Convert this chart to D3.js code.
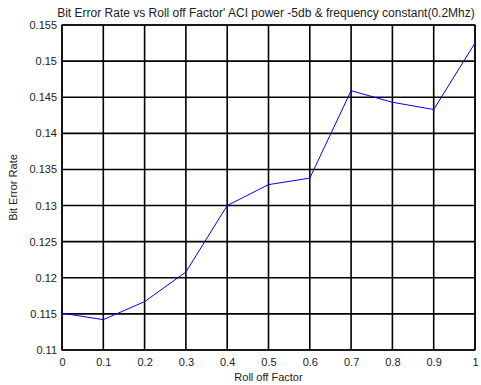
<!DOCTYPE html>
<html>
<head>
<meta charset="utf-8">
<script src="https://cdn.jsdelivr.net/npm/d3@7"></script>
<style>
  body { margin: 0; background: #fff; }
  text { font-family: "Liberation Sans", Arial, sans-serif; fill: #222; }
</style>
</head>
<body>
<div id="chart"></div>
<script>
// values
const rollOff = [0, 0.1, 0.2, 0.3, 0.4, 0.5, 0.6, 0.7, 0.8, 0.9, 1.0];
const ber = [0.1151, 0.1142, 0.1167, 0.1208, 0.1300, 0.1329, 0.1338, 0.1459, 0.1443, 0.1433, 0.1525];
const xTicks = [0, 0.1, 0.2, 0.3, 0.4, 0.5, 0.6, 0.7, 0.8, 0.9, 1];
const yTicks = [0.11, 0.115, 0.12, 0.125, 0.13, 0.135, 0.14, 0.145, 0.15, 0.155];

const width = 481, height = 385;
const margin = { top: 25, right: 6, bottom: 35, left: 62 };

const svg = d3.select("#chart").append("svg")
    .attr("width", width)
    .attr("height", height);

const x = d3.scaleLinear().domain([0, 1]).range([margin.left, width - margin.right]);
const y = d3.scaleLinear().domain([0.11, 0.155]).range([height - margin.bottom, margin.top]);

// grid
svg.append("g")
    .selectAll("line.vgrid")
    .data(xTicks)
    .join("line")
    .attr("x1", d => x(d)).attr("x2", d => x(d))
    .attr("y1", y(0.11)).attr("y2", y(0.155))
    .attr("stroke", "#000").attr("stroke-width", 1.6);

svg.append("g")
    .selectAll("line.hgrid")
    .data(yTicks)
    .join("line")
    .attr("y1", d => y(d)).attr("y2", d => y(d))
    .attr("x1", x(0)).attr("x2", x(1))
    .attr("stroke", "#000").attr("stroke-width", 1.6);

// frame
svg.append("rect")
    .attr("x", x(0)).attr("y", y(0.155))
    .attr("width", x(1) - x(0)).attr("height", y(0.11) - y(0.155))
    .attr("fill", "none").attr("stroke", "#000").attr("stroke-width", 1.2);

// axes labels
const xAxis = d3.axisBottom(x).tickValues(xTicks).tickSize(0).tickPadding(8).tickFormat(d3.format("~g"));
const yAxis = d3.axisLeft(y).tickValues(yTicks).tickSize(0).tickPadding(5).tickFormat(d3.format("~g"));

svg.append("g")
    .attr("transform", "translate(0," + y(0.11) + ")")
    .call(xAxis)
    .call(g => g.select(".domain").remove())
    .selectAll("text").attr("font-size", 11).attr("fill", "#222");

svg.append("g")
    .attr("transform", "translate(" + x(0) + ",0)")
    .call(yAxis)
    .call(g => g.select(".domain").remove())
    .selectAll("text").attr("font-size", 11).attr("fill", "#222");

// line
const line = d3.line()
    .x((d, i) => x(rollOff[i]))
    .y(d => y(d));

svg.append("path")
    .datum(ber)
    .attr("d", line)
    .attr("fill", "none")
    .attr("stroke", "#0000ff")
    .attr("stroke-width", 1);

// titles
svg.append("text")
    .attr("x", 266).attr("y", 17)
    .attr("text-anchor", "middle")
    .attr("font-size", 12)
    .text("Bit Error Rate vs Roll off Factor' ACI power -5db & frequency constant(0.2Mhz)");

svg.append("text")
    .attr("x", (x(0) + x(1)) / 2).attr("y", 381)
    .attr("text-anchor", "middle")
    .attr("font-size", 11)
    .text("Roll off Factor");

svg.append("text")
    .attr("transform", "translate(17," + (y(0.11) + y(0.155)) / 2 + ") rotate(-90)")
    .attr("text-anchor", "middle")
    .attr("font-size", 11)
    .text("Bit Error Rate");
</script>
</body>
</html>
